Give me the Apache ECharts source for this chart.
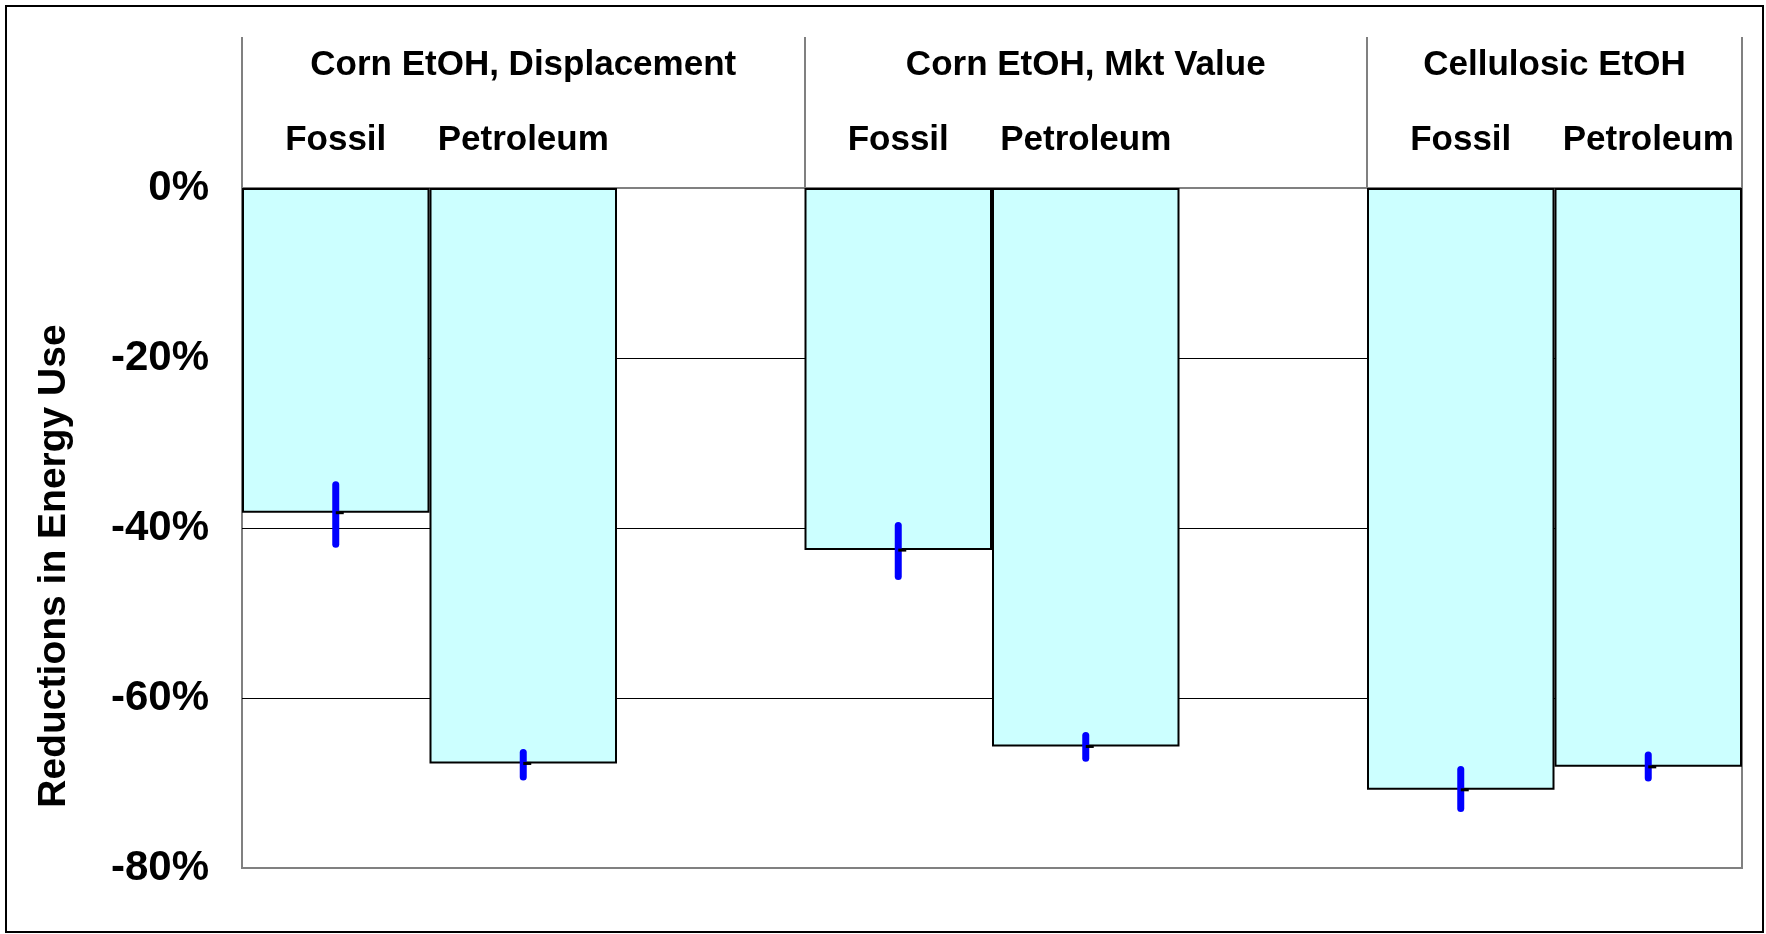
<!DOCTYPE html>
<html>
<head>
<meta charset="utf-8">
<title>Reductions in Energy Use</title>
<script src="https://cdn.jsdelivr.net/npm/echarts@6/dist/echarts.min.js"></script>
<style>
    html, body { margin: 0; padding: 0; background: #fff; }
    #chart { width: 1766px; height: 934px; }
</style>
</head>
<body>
<div id="chart"></div>
<script>
// slots along the x axis, '' is the empty spacer between groups
const categories = ['Fossil', 'Petroleum', '', 'Fossil', 'Petroleum', '', 'Fossil', 'Petroleum'];
const groupNames = ['Corn EtOH, Displacement', 'Corn EtOH, Mkt Value', 'Cellulosic EtOH'];
// reduction in energy use, %
const reduction = [-38.2, -67.7, null, -42.6, -65.7, null, -70.8, -68.1];
const errLow = [-41.9, -69.3, null, -45.7, -67.1, null, -73.0, -69.4];
const errHigh = [-34.9, -66.4, null, -39.7, -64.4, null, -68.4, -66.7];
const yTicks = [-80, -60, -40, -20, 0];

// group boundaries: start, after each spacer, end
const bounds = [0];
categories.forEach(function (c, i) { if (c === '') bounds.push(i + 1); });
bounds.push(categories.length);
const groupCenters = [];
for (let i = 0; i < bounds.length - 1; i++) groupCenters.push((bounds[i] + bounds[i + 1]) / 2);

const font = "'Liberation Sans', Arial, sans-serif";

const errData = [];
reduction.forEach(function (v, i) {
    if (v !== null) errData.push([i, errLow[i], errHigh[i], v]);
});

const myChart = echarts.init(document.getElementById('chart'));
const options = {
    backgroundColor: '#fff',
    animation: false,
    grid: {
        left: 242, right: 24, top: 188, bottom: 66,
        show: true,
        borderColor: '#808080',
        borderWidth: 2,
        backgroundColor: 'transparent'
    },
    xAxis: [
        {
            type: 'category',
            data: categories,
            position: 'top',
            axisLine: { show: false },
            axisTick: { show: false },
            axisLabel: {
                interval: 0,
                margin: 48,
                verticalAlign: 'middle',
                color: '#000',
                fontFamily: font,
                fontWeight: 'bold',
                fontSize: 35
            },
            splitLine: { show: false }
        },
        {
            type: 'value',
            min: 0,
            max: categories.length,
            position: 'top',
            axisLine: { show: false },
            splitLine: { show: false },
            axisTick: {
                show: true,
                customValues: bounds,
                length: 151,
                lineStyle: { color: '#808080', width: 2 }
            },
            axisLabel: {
                customValues: groupCenters,
                margin: 123,
                verticalAlign: 'middle',
                color: '#000',
                fontFamily: font,
                fontWeight: 'bold',
                fontSize: 35,
                formatter: function (v) {
                    return groupNames[groupCenters.indexOf(v)];
                }
            }
        }
    ],
    yAxis: {
        type: 'value',
        min: yTicks[0],
        max: yTicks[yTicks.length - 1],
        interval: 20,
        name: 'Reductions in Energy Use',
        nameLocation: 'middle',
        nameRotate: 90,
        nameGap: 168,
        nameTextStyle: {
            color: '#000',
            fontFamily: font,
            fontWeight: 'bold',
            fontSize: 39,
            padding: [0, 76, 0, 0]
        },
        axisLine: { show: false },
        axisTick: { show: false },
        axisLabel: {
            margin: 33,
            color: '#000',
            fontFamily: font,
            fontWeight: 'bold',
            fontSize: 42,
            formatter: '{value}%'
        },
        splitLine: {
            show: true,
            lineStyle: {
                color: ['#808080', '#000', '#000', '#000', '#808080'],
                width: 1
            }
        }
    },
    series: [
        {
            name: 'Reduction',
            type: 'bar',
            xAxisIndex: 0,
            data: reduction,
            barWidth: '100%',
            itemStyle: {
                color: '#CCFFFF',
                borderColor: '#000',
                borderWidth: 2
            },
            z: 3
        },
        {
            name: 'Range',
            type: 'custom',
            xAxisIndex: 0,
            data: errData,
            z: 5,
            renderItem: function (params, api) {
                const lo = api.coord([api.value(0), api.value(1)]);
                const hi = api.coord([api.value(0), api.value(2)]);
                const mid = api.coord([api.value(0), api.value(3)]);
                return {
                    type: 'group',
                    children: [
                        {
                            type: 'line',
                            shape: { x1: lo[0], y1: lo[1], x2: hi[0], y2: hi[1] },
                            style: { stroke: '#0000FF', lineWidth: 7, lineCap: 'round' }
                        },
                        {
                            type: 'line',
                            shape: { x1: mid[0], y1: mid[1], x2: mid[0] + 8, y2: mid[1] },
                            style: { stroke: '#000', lineWidth: 3 }
                        }
                    ]
                };
            }
        }
    ],
    graphic: [
        {
            type: 'rect',
            shape: { x: 6, y: 6, width: 1757, height: 926 },
            style: { fill: 'none', stroke: '#000', lineWidth: 2 },
            silent: true
        }
    ]
};
myChart.setOption(options);
</script>
</body>
</html>
